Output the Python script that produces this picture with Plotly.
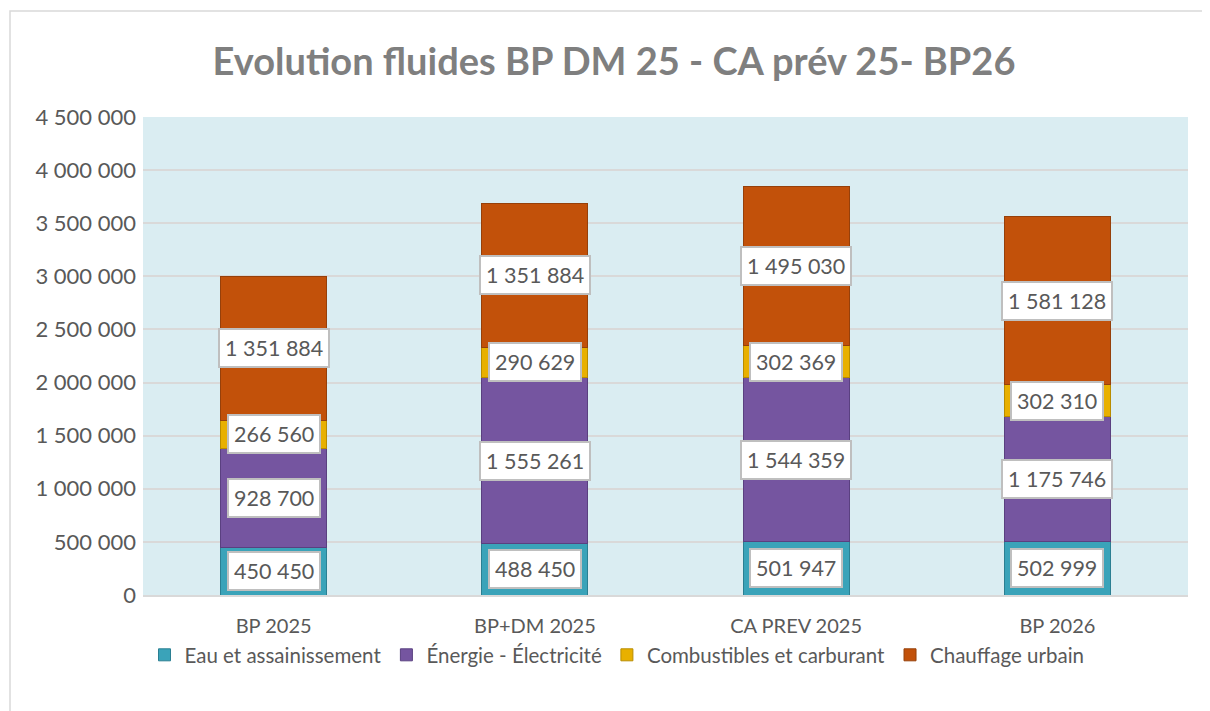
import plotly.graph_objects as go

categories = ["BP 2025", "BP+DM 2025", "CA PREV 2025", "BP 2026"]
series_names = ["Eau et assainissement", "Énergie - Électricité", "Combustibles et carburant", "Chauffage urbain"]
eau = [450450, 488450, 501947, 502999]
energie = [928700, 1555261, 1544359, 1175746]
combustibles = [266560, 290629, 302369, 302310]
chauffage = [1351884, 1351884, 1495030, 1581128]
y_ticks = [0, 500000, 1000000, 1500000, 2000000, 2500000, 3000000, 3500000, 4000000, 4500000]

series_values = [eau, energie, combustibles, chauffage]
colors = ["#3aa3b9", "#7555a0", "#e8b000", "#c2510a"]
line_colors = ["#2b7f92", "#5a4080", "#b88c00", "#96400a"]

FONT = "Lato"
TXT = "#595959"

# page body has an 8px offset
OFF = 8
W, H = 1210 - OFF, 711 - OFF
L, R, T, B = 143 - OFF, 22, 117 - OFF, 116
PW, PH = W - L - R, H - T - B

def fmt(v):
    return f"{v:,}".replace(",", " ")

def px(xabs):
    return (xabs - OFF - L) / PW

def py(yabs):
    return (H - B - (yabs - OFF)) / PH

fig = go.Figure()
for name, vals, c, lc in zip(series_names, series_values, colors, line_colors):
    fig.add_trace(go.Bar(
        x=categories, y=vals, name=name,
        marker=dict(color=c, line=dict(color=lc, width=1)),
        width=0.406,
    ))

annotations = []
base = [0] * len(categories)
for vals in series_values:
    for i, v in enumerate(vals):
        annotations.append(dict(
            x=categories[i], y=base[i] + v / 2, xref="x", yref="y",
            text=fmt(v), showarrow=False,
            font=dict(family=FONT, size=21.5, color=TXT),
            bgcolor="white", bordercolor="#bfbfbf", borderwidth=2, borderpad=5,
        ))
        base[i] += v

fig.update_layout(
    barmode="stack",
    width=W, height=H,
    margin=dict(l=L, r=R, t=T, b=B, autoexpand=False),
    paper_bgcolor="white",
    plot_bgcolor="#daedf2",
    title=dict(text="<b>Evolution fluides BP DM 25 - CA prév 25- BP26</b>",
               x=(614 - OFF) / W, xanchor="center", y=1 - (62 - OFF) / H, yanchor="middle",
               font=dict(family=FONT, size=38, color="#7f7f7f")),
    separators=", ",
    showlegend=True,
    legend=dict(orientation="h", x=px(617), xanchor="center",
                y=py(655), yanchor="middle", bgcolor="rgba(0,0,0,0)",
                font=dict(family=FONT, size=20.5, color=TXT),
                traceorder="normal"),
    xaxis=dict(tickfont=dict(family=FONT, size=20, color=TXT), showgrid=False,
               showline=True, linecolor="#d9d9d9", linewidth=2, ticks="", ticklabelstandoff=12),
    yaxis=dict(range=[0, 4500000], tickvals=y_ticks, ticktext=[fmt(t) for t in y_ticks],
               tickfont=dict(family=FONT, size=22, color=TXT), ticklabelstandoff=6,
               gridcolor="#d9d9d9", gridwidth=2, zeroline=False, showline=False),
    annotations=annotations,
    shapes=[dict(type="rect", xref="paper", yref="paper",
                 x0=px(10), x1=px(1230),
                 y0=py(730), y1=py(11),
                 line=dict(color="#d9d9d9", width=1.5), fillcolor="rgba(0,0,0,0)", layer="below")],
)

fig.write_html("out.html")
